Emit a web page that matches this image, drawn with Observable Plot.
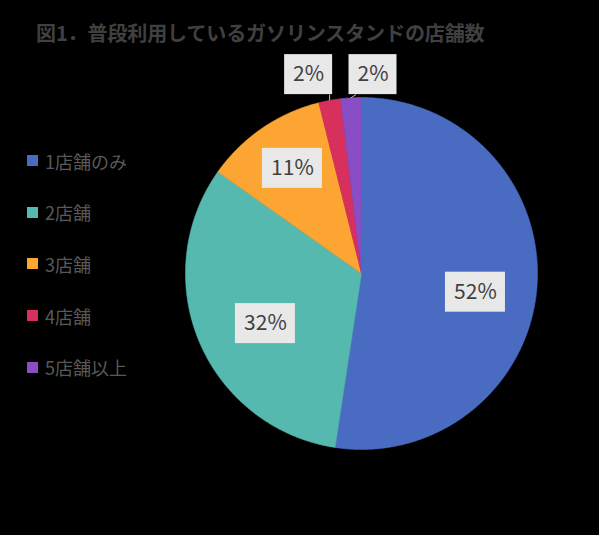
<!DOCTYPE html>
<html>
<head>
<meta charset="utf-8">
<script src="https://cdn.jsdelivr.net/npm/d3@7"></script>
<script src="https://cdn.jsdelivr.net/npm/@observablehq/plot@0.6"></script>
<style>
  html, body { margin: 0; padding: 0; background: #000; }
  #wrap { position: relative; width: 599px; height: 535px; background: #000; overflow: hidden; font-family: "Noto Sans CJK JP", "Noto Sans", sans-serif; }
  #title { position: absolute; left: 36px; top: 19px; font-size: 20px; line-height: 28px; font-weight: bold; color: #404040; white-space: nowrap; letter-spacing: -0.1px; }
  #legend { position: absolute; left: 27px; top: 135px; }
  .item { height: 51.6px; display: flex; align-items: center; font-size: 18px; color: #595959; }
  .sw { width: 11px; height: 11px; margin-right: 7px; }
  #chart { position: absolute; left: 0; top: 0; }
</style>
</head>
<body>
<div id="wrap">
  <div id="chart"></div>
  <div id="title"></div>
  <div id="legend"></div>
</div>
<script>
const titleText = "図1．普段利用しているガソリンスタンドの店舗数";
const categories = ["1店舗のみ", "2店舗", "3店舗", "4店舗", "5店舗以上"];
const values = [52.4, 32.4, 11.3, 2.0, 1.9];
const colors = ["#4a6bc2", "#55b9b0", "#fda533", "#d7305c", "#8a4ec4"];

// layout (pixels)
const W = 599, H = 535, CX = 361, CY = 273, R = 176;
// label placement nudges (pixels) for inside labels, by slice index
const insideNudge = {0: [-1, 10], 1: [10, 5], 2: [-4, -10]};

document.getElementById("title").textContent = titleText;
const legend = document.getElementById("legend");
categories.forEach((c, i) => {
  const it = document.createElement("div");
  it.className = "item";
  const sw = document.createElement("div");
  sw.className = "sw";
  sw.style.background = colors[i];
  const tx = document.createElement("span");
  tx.textContent = c;
  it.appendChild(sw); it.appendChild(tx);
  legend.appendChild(it);
});

const rows = categories.map((c, i) => ({cat: c, value: values[i]}));
const arcs = d3.pie().sort(null).value(d => d.value)(rows);

// slice polygons in unit-radius coordinates (y down)
const poly = [];
arcs.forEach(a => {
  const cat = a.data.cat;
  poly.push({cat, x: 0, y: 0});
  const n = Math.max(2, Math.ceil((a.endAngle - a.startAngle) / 0.005));
  for (let k = 0; k <= n; k++) {
    const t = a.startAngle + (a.endAngle - a.startAngle) * k / n;
    poly.push({cat, x: Math.sin(t), y: -Math.cos(t)});
  }
  poly.push({cat, x: 0, y: 0});
});

// labels
const labels = [];
const links = [];
const small = arcs.filter(a => a.data.value < 5);
arcs.forEach(a => {
  const mid = (a.startAngle + a.endAngle) / 2;
  const t = Math.round(a.data.value) + "%";
  const w = (12 * t.length + 24) / R, h = 40 / R;
  if (a.data.value >= 5) {
    const r = 0.655;
    const nd = insideNudge[a.index] || [0, 0];
    const lx = Math.sin(mid) * r + nd[0] / R, ly = -Math.cos(mid) * r + nd[1] / R;
    labels.push({t, lx, ly, w, h});
  } else {
    const ax = Math.sin(mid), ay = -Math.cos(mid);
    const first = small.indexOf(a) === 0;
    const ly = -1.13;
    const lx = first ? ax - w / 2 + 3 / R : ax + w / 2 - 2 / R;
    labels.push({t, lx, ly, w, h});
    links.push({x1: first ? ax : ax + 5 / R, y1: ly + h / 2, x2: ax, y2: ay});
  }
});

const chart = Plot.plot({
  width: W, height: H, margin: 0,
  x: {domain: [-CX / R, (W - CX) / R], range: [0, W], axis: null},
  y: {domain: [-CY / R, (H - CY) / R], range: [0, H], axis: null},
  color: {domain: categories, range: colors},
  style: {background: "transparent"},
  marks: [
    Plot.line(poly, {x: "x", y: "y", z: "cat", fill: "cat", stroke: "cat", strokeWidth: 0.6, curve: "linear"}),
    Plot.link(links, {x1: "x1", y1: "y1", x2: "x2", y2: "y2", stroke: "#bfbfbf", strokeWidth: 1}),
    Plot.rect(labels, {x1: d => d.lx - d.w / 2, x2: d => d.lx + d.w / 2, y1: d => d.ly - d.h / 2, y2: d => d.ly + d.h / 2, fill: "#e8e8e8"}),
    Plot.text(labels, {x: "lx", y: "ly", text: "t", fill: "#404040", fontSize: 21, fontFamily: "'Noto Sans CJK JP', 'Noto Sans', sans-serif"})
  ]
});
document.getElementById("chart").appendChild(chart);
</script>
</body>
</html>
